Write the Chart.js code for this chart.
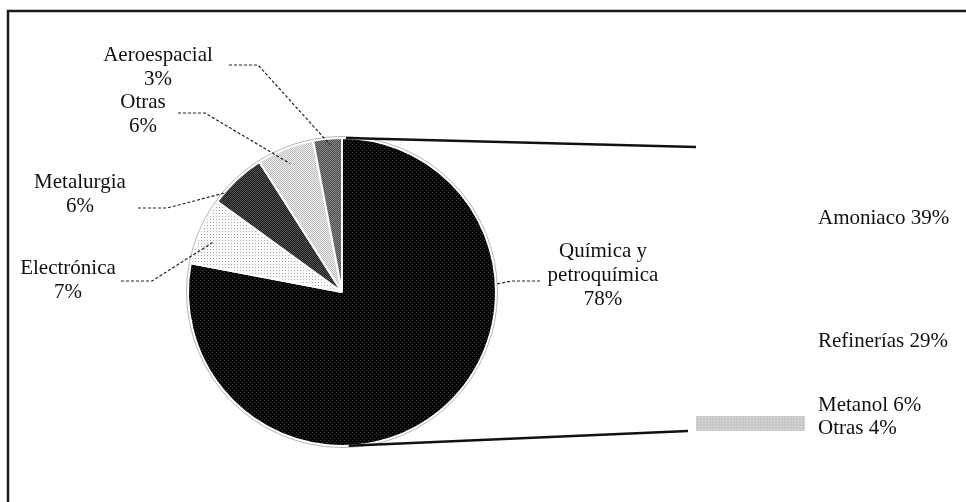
<!DOCTYPE html>
<html>
<head>
<meta charset="utf-8">
<script src="https://cdn.jsdelivr.net/npm/chart.js@4"></script>
<style>
  body { margin: 0; background: #fff; }
  #wrap { position: relative; width: 966px; height: 502px; }
  #wrap canvas { position: absolute; left: 0; top: 0; }
</style>
</head>
<body>
<div id="wrap">
  <canvas id="pieChart" width="966" height="502"></canvas>
  <canvas id="barChart" width="966" height="502"></canvas>
</div>
<script>
// sectores del gráfico circular (porcentaje del consumo)
const sectores = ['Aeroespacial', 'Otras', 'Metalurgia', 'Electrónica', 'Química y petroquímica'];
const sectorValores = [3, 6, 6, 7, 78];
// desglose de química y petroquímica
const usos = ['Otras', 'Metanol', 'Refinerías', 'Amoniaco'];
const usoValores = [4, 6, 29, 39];

// orden de dibujo: desde las 12 en sentido horario
const pieOrden = [4, 3, 2, 1, 0];

const FONT = '21px "Liberation Serif", "Times New Roman", serif';
const INK = '#111';

function trama(bg, fg, size, pts) {
  const c = document.createElement('canvas');
  c.width = c.height = size;
  const g = c.getContext('2d');
  g.fillStyle = bg;
  g.fillRect(0, 0, size, size);
  g.fillStyle = fg;
  pts.forEach(p => g.fillRect(p[0], p[1], 1, 1));
  return g.createPattern(c, 'repeat');
}

const tramas = {
  'Química y petroquímica': trama('#050505', '#3c3c3c', 4, [[0, 0], [2, 2]]),
  'Electrónica': trama('#fbfbfb', '#a8a8a8', 3, [[0, 0]]),
  'Metalurgia': trama('#1a1a1a', '#555', 2, [[0, 0], [1, 1]]),
  'Otras': trama('#eeeeee', '#bdbdbd', 2, [[0, 0], [1, 1]]),
  'Aeroespacial': trama('#4a4a4a', '#8a8a8a', 2, [[0, 0], [1, 1]])
};

// posición de cada rótulo y de su línea guía
const rotulos = {
  'Aeroespacial': { x: 158, y: 55, lines: ['Aeroespacial', '3%'], guia: [[229, 65], [258, 65]], frac: 0.57, rf: 0.96 },
  'Otras': { x: 143, y: 102, lines: ['Otras', '6%'], guia: [[178, 113], [205, 113]], frac: 0.48, rf: 0.9 },
  'Metalurgia': { x: 80, y: 182, lines: ['Metalurgia', '6%'], guia: [[138, 208], [167, 208]], frac: 0.18, rf: 1.0 },
  'Electrónica': { x: 68, y: 268, lines: ['Electrónica', '7%'], guia: [[121, 281], [152, 281]], frac: 0.4, rf: 0.9 },
  'Química y petroquímica': { x: 603, y: 251, lines: ['Química y', 'petroquímica', '78%'], guia: [[540, 281], [512, 281]], frac: 0.31, rf: 1.0 }
};

const pieLabels = pieOrden.map(i => sectores[i]);
const pieData = pieOrden.map(i => sectorValores[i]);

const pieDecor = {
  id: 'pieDecor',
  afterDatasetsDraw(chart) {
    const ctx = chart.ctx;
    const arcs = chart.getDatasetMeta(0).data;
    const a0 = arcs[0];
    ctx.save();
    // contorno fino alrededor del círculo
    ctx.strokeStyle = '#b5b5b5';
    ctx.lineWidth = 1;
    ctx.beginPath();
    ctx.arc(a0.x, a0.y, a0.outerRadius + 1.5, 0, Math.PI * 2);
    ctx.stroke();

    // marco
    ctx.strokeStyle = '#1a1a1a';
    ctx.lineWidth = 2.5;
    ctx.beginPath();
    ctx.moveTo(8, 502);
    ctx.lineTo(8, 11);
    ctx.lineTo(966, 11);
    ctx.stroke();

    // líneas guía y rótulos
    ctx.font = FONT;
    ctx.fillStyle = INK;
    ctx.textAlign = 'center';
    ctx.textBaseline = 'middle';
    arcs.forEach((arc, i) => {
      const r = rotulos[pieLabels[i]];
      const ang = arc.startAngle + (arc.endAngle - arc.startAngle) * r.frac;
      const px = arc.x + Math.cos(ang) * arc.outerRadius * r.rf;
      const py = arc.y + Math.sin(ang) * arc.outerRadius * r.rf;
      ctx.strokeStyle = '#222';
      ctx.lineWidth = 1.2;
      ctx.setLineDash([3, 2]);
      ctx.beginPath();
      ctx.moveTo(r.guia[0][0], r.guia[0][1]);
      ctx.lineTo(r.guia[1][0], r.guia[1][1]);
      ctx.lineTo(px, py);
      ctx.stroke();
      ctx.setLineDash([]);
      r.lines.forEach((t, k) => ctx.fillText(t, r.x, r.y + k * 24));
    });
    ctx.restore();
  }
};

const pieChart = new Chart(document.getElementById('pieChart'), {
  type: 'pie',
  data: {
    labels: pieLabels,
    datasets: [{
      data: pieData,
      backgroundColor: pieLabels.map(l => tramas[l]),
      borderColor: '#fff',
      borderWidth: 2
    }]
  },
  options: {
    responsive: false,
    animation: false,
    events: [],
    rotation: 0,
    layout: { padding: { left: 187, right: 469, top: 137, bottom: 55 } },
    plugins: { legend: { display: false }, tooltip: { enabled: false } }
  },
  plugins: [pieDecor]
});

// barra de desglose con líneas de unión al círculo
const barDecor = {
  id: 'barDecor',
  afterDatasetsDraw(chart) {
    const ctx = chart.ctx;
    const arc = pieChart.getDatasetMeta(0).data[0];
    const ca = chart.chartArea;
    const tangente = (px, py, lado) => {
      const dx = px - arc.x, dy = py - arc.y;
      const d = Math.hypot(dx, dy);
      const phi = Math.atan2(dy, dx);
      const alfa = Math.acos(arc.outerRadius / d);
      const t = phi + lado * alfa;
      return [arc.x + Math.cos(t) * arc.outerRadius, arc.y + Math.sin(t) * arc.outerRadius];
    };
    ctx.save();
    ctx.strokeStyle = '#111';
    ctx.lineWidth = 2.5;
    const sup = tangente(ca.left, ca.top, -1);
    const inf = tangente(ca.left - 8, ca.bottom, 1);
    ctx.beginPath();
    ctx.moveTo(sup[0], sup[1]);
    ctx.lineTo(ca.left, ca.top);
    ctx.moveTo(inf[0], inf[1]);
    ctx.lineTo(ca.left - 8, ca.bottom);
    ctx.stroke();

    // rótulos de la barra, de arriba abajo sin solaparse
    ctx.font = FONT;
    ctx.fillStyle = INK;
    ctx.textAlign = 'left';
    ctx.textBaseline = 'middle';
    let prev = -Infinity;
    for (let i = chart.data.datasets.length - 1; i >= 0; i--) {
      const bar = chart.getDatasetMeta(i).data[0];
      let y = (bar.y + bar.base) / 2;
      if (y < prev + 23) y = prev + 23;
      prev = y;
      const ds = chart.data.datasets[i];
      ctx.fillText(ds.label + ' ' + ds.data[0] + '%', ca.right + 13, y);
    }
    ctx.restore();
  }
};

const total = usoValores.reduce((a, b) => a + b, 0);
new Chart(document.getElementById('barChart'), {
  type: 'bar',
  data: {
    labels: ['Química y petroquímica'],
    datasets: usos.map((u, i) => ({
      label: u,
      data: [usoValores[i]],
      backgroundColor: u === 'Otras' ? trama('#c9c9c9', '#e2e2e2', 3, [[0, 0]]) : '#fff',
      borderWidth: 0,
      barPercentage: 1,
      categoryPercentage: 1
    }))
  },
  options: {
    responsive: false,
    animation: false,
    events: [],
    layout: { padding: { left: 696, right: 161, top: 147, bottom: 71 } },
    scales: {
      x: { display: false, stacked: true },
      y: { display: false, stacked: true, min: 0, max: total }
    },
    plugins: { legend: { display: false }, tooltip: { enabled: false } }
  },
  plugins: [barDecor]
});
</script>
</body>
</html>
